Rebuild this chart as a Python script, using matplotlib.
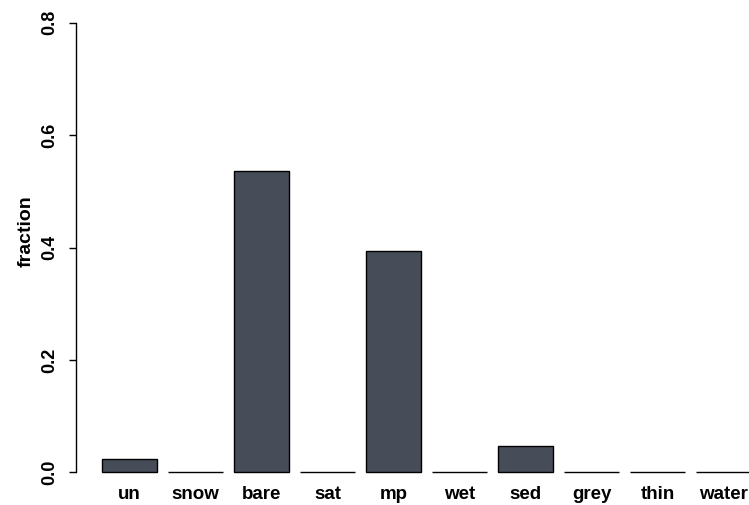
import numpy as np
import matplotlib.pyplot as plt

plt.rcParams["font.family"] = ["Liberation Sans", "DejaVu Sans"]
plt.rcParams["font.weight"] = "bold"

# surface class fractions
categories = ["un", "snow", "bare", "sat", "mp", "wet", "sed", "grey", "thin", "water"]
fractions = [0.024, 0.0, 0.537, 0.0, 0.393, 0.0, 0.047, 0.0, 0.0, 0.0]
y_ticks = [0.0, 0.2, 0.4, 0.6, 0.8]

W, H = 749, 505
fig = plt.figure(figsize=(W / 100, H / 100), dpi=100)

# plot region in pixels (right edge runs past the figure, like the original layout)
left, right = 76, 777
top, bottom = 4.8, 490.3
ax = fig.add_axes([left / W, (H - bottom) / H, (right - left) / W, (bottom - top) / H])

# bars laid out with width 1 and spacing 0.2
space, width = 0.2, 1.0
x = space + width / 2 + np.arange(len(categories)) * (width + space)
ax.bar(x, fractions, width=width, color="#474d58", edgecolor="black", linewidth=1.0)

ax.set_xlim(-0.272, 12.472)
ax.set_ylim(-0.032, 0.832)

for side in ["top", "right", "bottom"]:
    ax.spines[side].set_visible(False)
ax.spines["left"].set_bounds(0, 0.8)
ax.spines["left"].set_linewidth(1.0)

ax.set_yticks(y_ticks)
ax.set_yticklabels([f"{t:.1f}" for t in y_ticks], rotation=90, va="center",
                   fontsize=13, fontweight="bold")
ax.tick_params(axis="y", length=5, width=1.0, pad=8)

ax.set_xticks(x)
ax.set_xticklabels(categories, fontsize=13.5, fontweight="bold")
ax.tick_params(axis="x", length=0, pad=-3)

fig.text(26 / W, 1 - 231 / H, "fraction", rotation=90, ha="center", va="center",
         fontsize=14, fontweight="bold")

fig.savefig("out.png", dpi=100)
